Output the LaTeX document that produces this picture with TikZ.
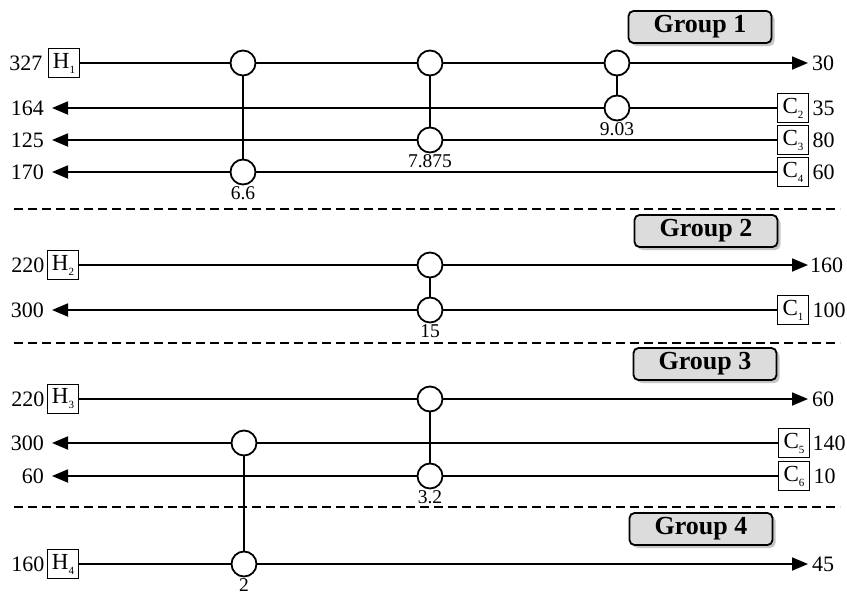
\documentclass[tikz,border=0pt]{standalone}
\usepackage{fontspec}
\setmainfont{Liberation Serif}
\usetikzlibrary{arrows.meta,shadows}
\definecolor{grpfill}{HTML}{DCDCDC}
\newcommand{\unitlbl}[2]{#1\raisebox{-5pt}{\fontsize{11}{11}\selectfont #2}}
\tikzset{
  stream/.style={line width=1.8pt},
  hx/.style={circle,draw,line width=1.8pt,fill=white,minimum size=25pt,inner sep=0pt},
  utilbox/.style={draw,line width=1.8pt,fill=white,minimum width=31pt,minimum height=29pt,inner sep=0pt,font=\fontsize{23}{23}\selectfont},
  val/.style={font=\fontsize{22}{22}\selectfont,inner sep=0pt},
  duty/.style={font=\fontsize{19.5}{19.5}\selectfont,inner sep=0pt,anchor=north,yshift=-1pt},
  grp/.style={draw,line width=1.8pt,rounded corners=5pt,fill=grpfill,minimum width=143pt,minimum height=32pt,inner sep=0pt,font=\fontsize{26}{26}\selectfont\bfseries,drop shadow={shadow xshift=3pt,shadow yshift=-3pt,opacity=0.45}},
  sep/.style={line width=2.2pt,dash pattern=on 9pt off 5pt},
  tip/.style={-{Triangle[length=16pt,width=13pt]}}
}
\begin{document}
\begin{tikzpicture}[x=1pt,y=-1pt]
\useasboundingbox (0,0) rectangle (847,595);
% ---------------- Group 1 ----------------
\node[grp] (g1) at (700,27) {Group 1};
\node[utilbox] (h1) at (64,63) {\unitlbl{H}{1}};
\node[utilbox] (c2) at (793,108) {\unitlbl{C}{2}};
\node[utilbox] (c3) at (793,140) {\unitlbl{C}{3}};
\node[utilbox] (c4) at (793,172) {\unitlbl{C}{4}};
\node[hx] (e1a) at (243,63) {};
\node[hx] (e1b) at (243,172) {};
\node[hx] (e2a) at (430,63) {};
\node[hx] (e2b) at (430,140) {};
\node[hx] (e3a) at (617,63) {};
\node[hx] (e3b) at (617,108) {};
\coordinate (t1) at (808,63);
\coordinate (o2) at (52,108);
\coordinate (o3) at (52,140);
\coordinate (o4) at (52,172);
\draw[stream,tip] (h1) -- (e1a) -- (e2a) -- (e3a) -- (t1);
\draw[stream,tip] (c2) -- (e3b) -- (o2);
\draw[stream,tip] (c3) -- (e2b) -- (o3);
\draw[stream,tip] (c4) -- (e1b) -- (o4);
\draw[stream] (e1a) -- (e1b);
\draw[stream] (e2a) -- (e2b);
\draw[stream] (e3a) -- (e3b);
\node[val,anchor=east] (l327) at ([xshift=-5pt]h1.west) {327};
\node[val,anchor=east] (l164) at ([xshift=-8pt]o2) {164};
\node[val,anchor=east] (l125) at ([xshift=-8pt]o3) {125};
\node[val,anchor=east] (l170) at ([xshift=-8pt]o4) {170};
\node[val,anchor=west] (l30) at ([xshift=4pt]t1) {30};
\node[val,anchor=west] (l35) at ([xshift=3pt]c2.east) {35};
\node[val,anchor=west] (l80) at ([xshift=3pt]c3.east) {80};
\node[val,anchor=west] (l60a) at ([xshift=3pt]c4.east) {60};
\node[duty] (d1) at (e1b.south) {6.6};
\node[duty] (d2) at (e2b.south) {7.875};
\node[duty] (d3) at (e3b.south) {9.03};
\draw[sep] (14,209) -- (840,209);
% ---------------- Group 2 ----------------
\node[grp] (g2) at (706,231) {Group 2};
\node[utilbox] (h2) at (63,265) {\unitlbl{H}{2}};
\node[utilbox] (c1) at (793,310) {\unitlbl{C}{1}};
\node[hx] (e4a) at (430,265) {};
\node[hx] (e4b) at (430,310) {};
\coordinate (t2) at (808,265);
\coordinate (o1) at (52,310);
\draw[stream,tip] (h2) -- (e4a) -- (t2);
\draw[stream,tip] (c1) -- (e4b) -- (o1);
\draw[stream] (e4a) -- (e4b);
\node[val,anchor=east] (l220a) at ([xshift=-2pt]h2.west) {220};
\node[val,anchor=east] (l300a) at ([xshift=-8pt]o1) {300};
\node[val,anchor=west] (l160a) at ([xshift=2pt]t2) {160};
\node[val,anchor=west] (l100) at ([xshift=3pt]c1.east) {100};
\node[duty] (d4) at (e4b.south) {15};
\draw[sep] (14,343) -- (840,343);
% ---------------- Group 3 ----------------
\node[grp] (g3) at (705,364) {Group 3};
\node[utilbox] (h3) at (63,399) {\unitlbl{H}{3}};
\node[utilbox] (c5) at (794,443) {\unitlbl{C}{5}};
\node[utilbox] (c6) at (794,476) {\unitlbl{C}{6}};
\node[hx] (e5a) at (430,399) {};
\node[hx] (e5b) at (430,476) {};
\node[hx] (e6a) at (244,443) {};
\coordinate (t3) at (808,399);
\coordinate (o5) at (52,443);
\coordinate (o6) at (52,476);
\draw[stream,tip] (h3) -- (e5a) -- (t3);
\draw[stream,tip] (c5) -- (e6a) -- (o5);
\draw[stream,tip] (c6) -- (e5b) -- (o6);
\draw[stream] (e5a) -- (e5b);
\node[val,anchor=east] (l220b) at ([xshift=-2pt]h3.west) {220};
\node[val,anchor=east] (l300b) at ([xshift=-8pt]o5) {300};
\node[val,anchor=east] (l60b) at ([xshift=-8pt]o6) {60};
\node[val,anchor=west] (l60c) at ([xshift=4pt]t3) {60};
\node[val,anchor=west] (l140) at ([xshift=2pt]c5.east) {140};
\node[val,anchor=west] (l10) at ([xshift=3pt]c6.east) {10};
\node[duty] (d5) at (e5b.south) {3.2};
\draw[sep] (14,507) -- (840,507);
% ---------------- Group 4 ----------------
\node[grp] (g4) at (701,529) {Group 4};
\node[utilbox] (h4) at (63,564) {\unitlbl{H}{4}};
\node[hx] (e6b) at (244,564) {};
\coordinate (t4) at (808,564);
\draw[stream,tip] (h4) -- (e6b) -- (t4);
\draw[stream] (e6a) -- (e6b);
\node[val,anchor=east] (l160b) at ([xshift=-2pt]h4.west) {160};
\node[val,anchor=west] (l45) at ([xshift=4pt]t4) {45};
\node[duty] (d6) at (e6b.south) {2};
\end{tikzpicture}
\end{document}
